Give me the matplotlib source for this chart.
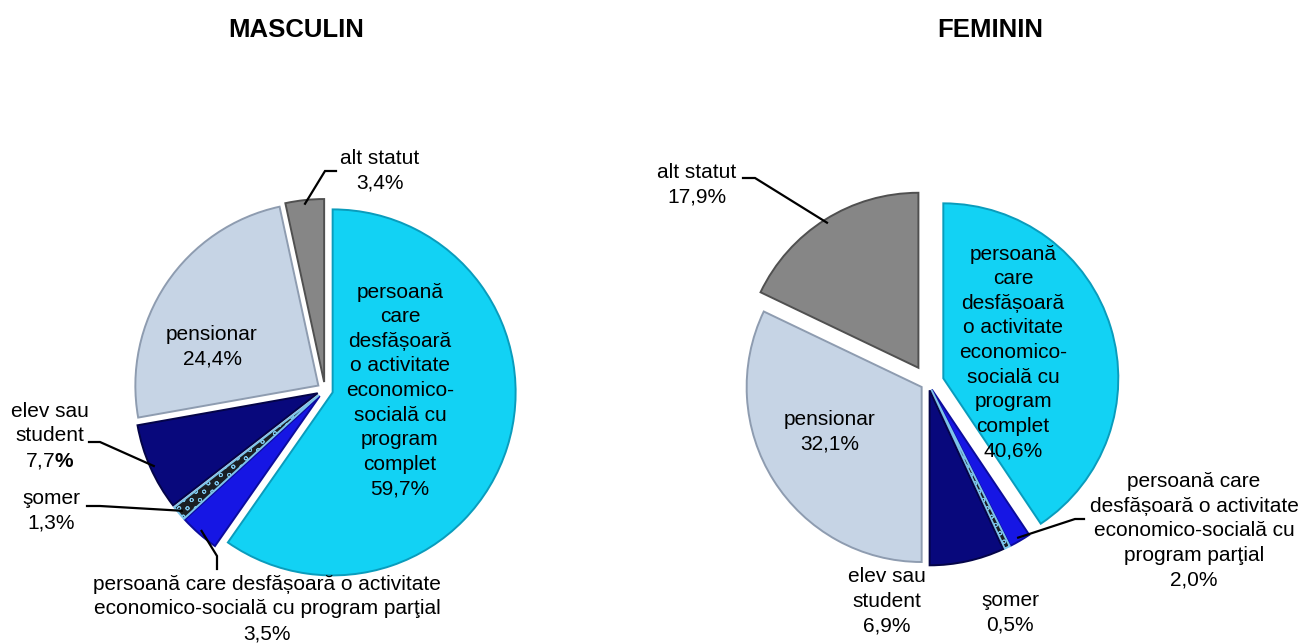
import numpy as np
import matplotlib
matplotlib.use('Agg')
import matplotlib.pyplot as plt

plt.rcParams['font.family'] = ['Liberation Sans', 'DejaVu Sans']
plt.rcParams['mathtext.fontset'] = 'custom'
plt.rcParams['mathtext.rm'] = 'Liberation Sans'
plt.rcParams['mathtext.bf'] = 'Liberation Sans:bold'
plt.rcParams['hatch.linewidth'] = 0.6

W, H = 1316, 643

# share of each status (%), clockwise from 12 o'clock
masculin = [59.7, 3.5, 1.3, 7.7, 24.4, 3.4]
feminin = [40.6, 2.0, 0.5, 6.9, 32.1, 17.9]

names_m = ['persoană\ncare\ndesfășoară\no activitate\neconomico-\nsocială cu\nprogram\ncomplet',
           'persoană care desfășoară o activitate\neconomico-socială cu program parţial',
           'şomer', 'elev sau\nstudent', 'pensionar', 'alt statut']
names_f = ['persoană\ncare\ndesfășoară\no activitate\neconomico-\nsocială cu\nprogram\ncomplet',
           'persoană care\ndesfășoară o activitate\neconomico-socială cu\nprogram parţial',
           'şomer', 'elev sau\nstudent', 'pensionar', 'alt statut']

colors = ['#12D2F4', '#1616E4', '#1a1e22', '#08087C', '#C6D4E5', '#868686']
edges = ['#0A9CBC', '#0C0C9C', '#7CC4EA', '#040448', '#8E9CB0', '#505050']
hatches = [None, None, 'oo', None, None, None]


def fmt(name, v):
    return name + '\n' + ('%.1f' % v).replace('.', ',') + '%'


labels_m = [fmt(n, v) for n, v in zip(names_m, masculin)]
labels_f = [fmt(n, v) for n, v in zip(names_f, feminin)]
labels_m[3] = labels_m[3].replace('%', r'$\mathbf{\%}$')  # bold % as in the original

fig = plt.figure(figsize=(W / 100, H / 100), dpi=100)
ax = fig.add_axes([0, 0, 1, 1])


def draw_pie(vals, center, radius, explode):
    wedges, _ = ax.pie(vals, explode=explode, colors=colors, startangle=90,
                       counterclock=False, center=center, radius=radius,
                       wedgeprops=dict(linewidth=1.4))
    for w, ec, h in zip(wedges, edges, hatches):
        w.set_edgecolor(ec)
        if h:
            w.set_hatch(h)
    return wedges


def wedge_point(w, f=0.98):
    th = np.deg2rad((w.theta1 + w.theta2) / 2)
    return w.center[0] + f * w.r * np.cos(th), w.center[1] + f * w.r * np.sin(th)


def leader(w, p1, p2):
    x3, y3 = wedge_point(w)
    ax.plot([p1[0], p2[0], x3], [H - p1[1], H - p2[1], y3], color='black', lw=1.6,
            solid_joinstyle='miter')


wm = draw_pie(masculin, (325, H - 390), 183, [8] * 6)
wf = draw_pie(feminin, (928, H - 383), 175, [16, 7.5, 7.5, 7.5, 7.5, 18])

ax.set_xlim(0, W)
ax.set_ylim(0, H)
ax.set_aspect('equal')
ax.axis('off')

ax.text(296, H - 30, 'MASCULIN', ha='center', va='center', fontsize=18.5, fontweight='bold')
ax.text(990, H - 30, 'FEMININ', ha='center', va='center', fontsize=18.5, fontweight='bold')

pos_m = [(400, 390.5), (267, 609), (51, 510.5), (50, 436.5), (212, 346.5), (380, 171)]
pos_f = [(1013, 352.5), (1194, 531), (1010, 613), (887, 601.5), (830, 431.5), (697, 185)]

for lab, (x, y) in zip(labels_m, pos_m):
    ax.text(x, H - y, lab, ha='center', va='center', multialignment='center',
            fontsize=15, linespacing=1.37)
for lab, (x, y) in zip(labels_f, pos_f):
    ax.text(x, H - y, lab, ha='center', va='center', multialignment='center',
            fontsize=15, linespacing=1.37)

leader(wm[5], (336, 171), (325, 171))
leader(wm[3], (89, 442), (100, 442))
leader(wm[2], (87, 506), (100, 506))
leader(wm[1], (217, 569), (217, 556))
leader(wf[5], (743, 178), (755, 178))
leader(wf[1], (1084, 519), (1075, 519))

fig.savefig('out.png', dpi=100)
